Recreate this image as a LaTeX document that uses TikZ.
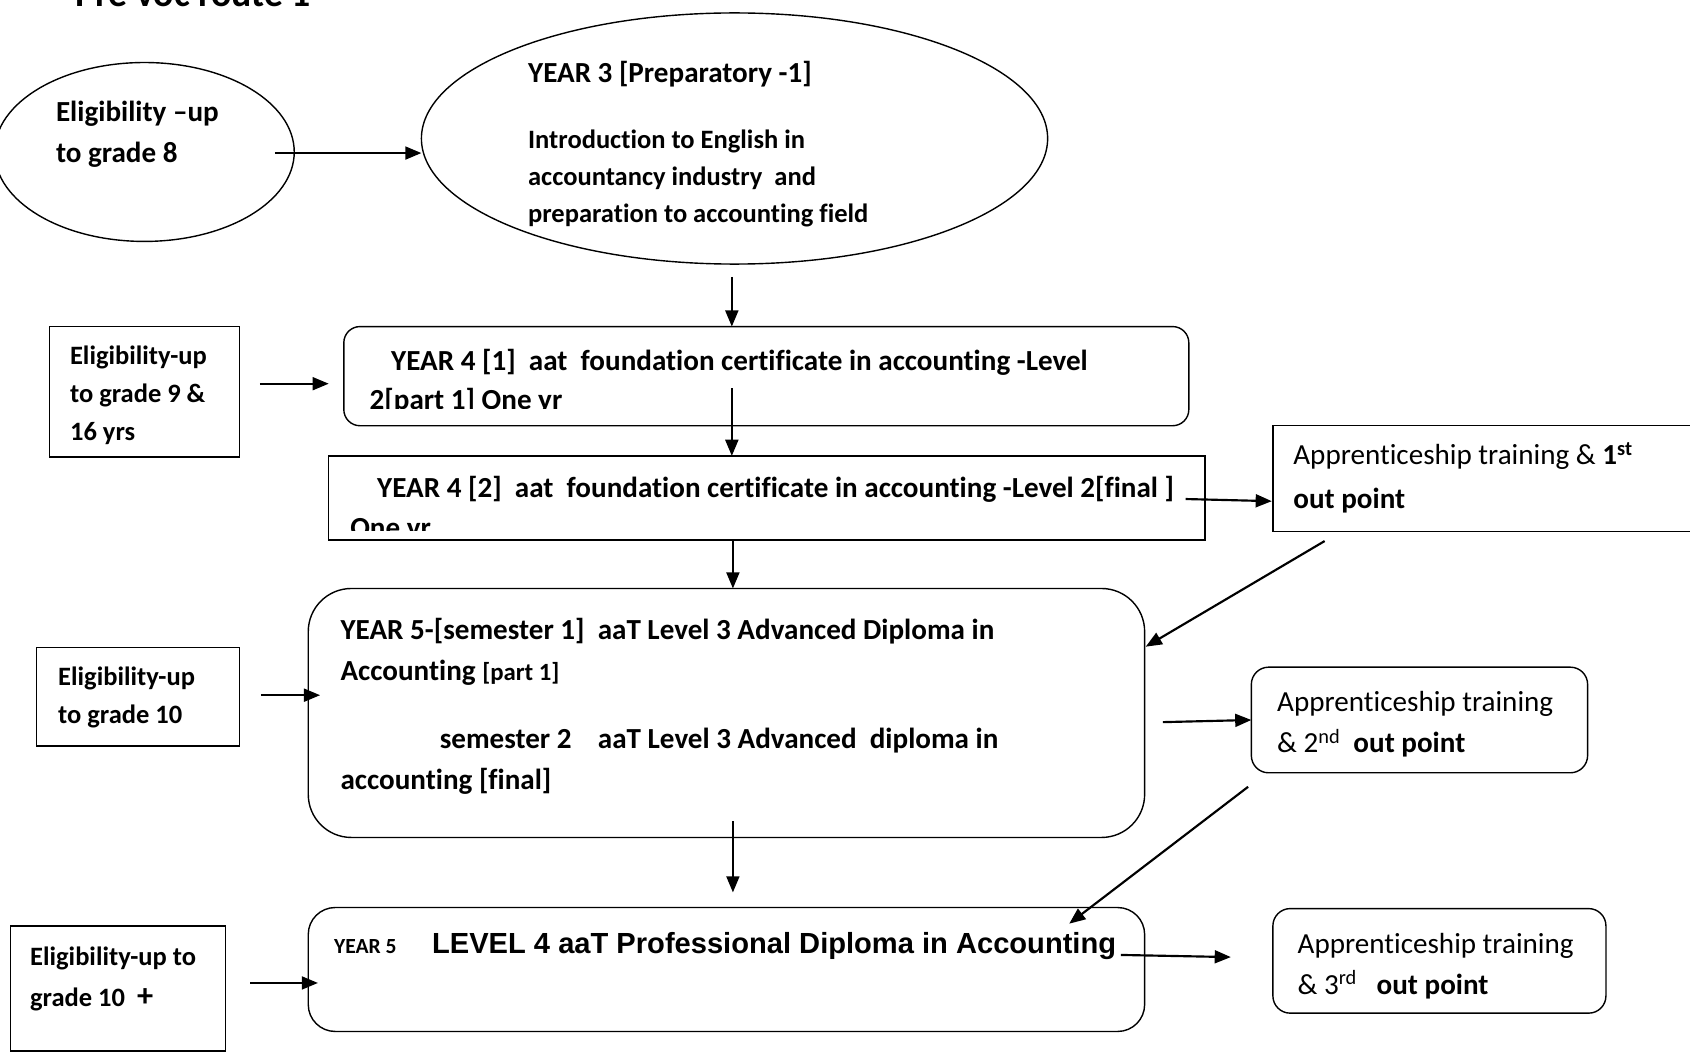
\documentclass[tikz,border=0pt]{standalone}
\usepackage{fontspec}
\setmainfont{Carlito}[Ligatures=NoCommon]
\newfontfamily\arialf{Liberation Sans}
\usetikzlibrary{arrows.meta,calc,shapes.geometric}
\tikzset{
  base/.style={draw, line width=1.3pt, inner sep=0pt, outer sep=0pt},
  ellbox/.style={base, ellipse},
  sqbox/.style={base, rectangle},
  rbox/.style={base, rectangle, rounded corners=#1},
  arr/.style={-{Triangle[length=15pt,width=12pt]}, line width=2pt},
  tl/.style={anchor=mid west, yshift=-7pt, inner sep=0pt, outer sep=0pt, font=\bfseries\fontsize{27}{32}\selectfont},
  tlb/.style={anchor=base west, inner sep=0pt, outer sep=0pt, font=\bfseries\fontsize{27}{32}\selectfont},
  tm/.style={anchor=mid west, yshift=-7pt, inner sep=0pt, outer sep=0pt, font=\bfseries\fontsize{24.6}{30}\selectfont},
  tr/.style={anchor=mid west, yshift=-7pt, inner sep=0pt, outer sep=0pt, font=\fontsize{27}{32}\selectfont},
}
\begin{document}
\begin{tikzpicture}[x=1pt,y=-1pt]
\useasboundingbox (0,0) rectangle (1568,979);
\clip (0,0) rectangle (1568,979);

% title
\node[anchor=base west, inner sep=0pt, font=\bfseries\fontsize{35}{40}\selectfont] (title) at (70,6) {Pre voc route 1};

% shapes
\node[ellbox, minimum width=278pt, minimum height=166pt] (e1) at (134,141) {};
\node[ellbox, minimum width=581pt, minimum height=233pt] (e2) at (681.5,128.5) {};
\node[sqbox, minimum width=176pt, minimum height=121pt] (b1) at (134,363.5) {};
\node[rbox=15pt, minimum width=784pt, minimum height=92pt] (r1) at (711,349) {};
\node[sqbox, minimum width=813pt, minimum height=78pt] (r2) at (711.5,462) {};
\node[sqbox, minimum width=399pt, minimum height=98pt] (a1) at (1380.5,444) {};
\node[rbox=40pt, minimum width=776pt, minimum height=231pt] (r3) at (674,661.5) {};
\node[sqbox, minimum width=188pt, minimum height=91pt] (b2) at (128,646.5) {};
\node[rbox=16pt, minimum width=312pt, minimum height=98pt] (a2) at (1317,668) {};
\node[rbox=25pt, minimum width=776pt, minimum height=115pt] (r4) at (674,899.5) {};
\node[rbox=16pt, minimum width=309pt, minimum height=97pt] (a3) at (1335.5,891.5) {};
\node[sqbox, minimum width=199pt, minimum height=116pt] (b3) at (109.5,917) {};

% texts
\node[tl] (t1a) at (52,103) {Eligibility –up};
\node[tl] (t1b) at (52,141) {to grade 8};

\node[tl] (t2a) at (490,67) {YEAR 3 [Preparatory -1]};
\node[tm] (t2b) at (490,128) {Introduction to English in};
\node[tm] (t2c) at (490,163) {accountancy industry~ and};
\node[tm] (t2d) at (490,197) {preparation to accounting field};

\node[tm] (t3a) at (65,329) {Eligibility-up};
\node[tm] (t3b) at (65,364) {to grade 9 \&};
\node[tm] (t3c) at (65,399) {16 yrs};

\node[tl] (t4a) at (363,334) {YEAR 4 [1]~ aat~ foundation certificate in accounting -Level};
\begin{scope}
  \clip (r1.north west) rectangle ($(r1.south east)+(0,-16)$);
  \node[tlb] (t4b) at (343,380) {2[part 1] One yr};
\end{scope}

\node[tl] (t5a) at (350,452) {YEAR 4 [2]~ aat~ foundation certificate in accounting -Level 2[final ]};
\begin{scope}
  \clip (r2.north west) rectangle ($(r2.south east)+(0,-9)$);
  \node[tlb] (t5b) at (325,499) {One yr};
\end{scope}

\node[tr] (t6a) at (1200,422) {Apprenticeship training \& \textbf{1}\textsuperscript{\textbf{st}}};
\node[tl] (t6b) at (1200,462) {out point};

\node[tl] (t7a) at (316,584) {YEAR 5-[semester 1]~ aaT Level 3 Advanced Diploma in};
\node[tl] (t7b) at (316,622) {Accounting {\fontsize{23}{28}\selectfont [part 1]}};
\node[tl] (t7c) at (408,685) {semester 2~~~ aaT Level 3 Advanced~ diploma in};
\node[tl] (t7d) at (316,723) {accounting [final]};

\node[tm] (t8a) at (54,627) {Eligibility-up};
\node[tm] (t8b) at (54,662) {to grade 10};

\node[tr] (t9a) at (1185,651) {Apprenticeship training};
\node[tr] (t9b) at (1185,689) {\& 2\textsuperscript{nd}~ \textbf{out point}};

\node[tl] (t10) at (310,875) {{\fontsize{20}{24}\selectfont YEAR 5}\hspace*{33pt}{\arialf\bfseries LEVEL 4 aaT Professional Diploma in Accounting}};

\node[tr] (t11a) at (1204,875) {Apprenticeship training};
\node[tr] (t11b) at (1204,913) {\& 3\textsuperscript{rd}~~ \textbf{out point}};

\node[tm] (t12a) at (28,886) {Eligibility-up to};
\node[tm] (t12b) at (28,924) {grade 10~ {\fontsize{30}{30}\selectfont +}};

% connector end points
\coordinate (p1) at (255,142);
\coordinate (p2) at (679,257);
\coordinate (p3) at (241,356);
\coordinate (q3) at (305,356);
\coordinate (p4) at (679,360);
\coordinate (p5) at (1100,463);
\coordinate (q5) at (1180,465);
\coordinate (p6) at (680,501);
\coordinate (p7) at (1229,502);
\coordinate (q7) at (1063,600);
\coordinate (p8) at (242,645);
\coordinate (q8) at (297,645);
\coordinate (p9) at (1079,670);
\coordinate (p10) at (1158,730);
\coordinate (q10) at (992,857);
\coordinate (p11) at (680,762);
\coordinate (q11) at (680,828);
\coordinate (p12) at (1040,886);
\coordinate (q12) at (1142,888);
\coordinate (p13) at (232,912);
\coordinate (q13) at (295,912);

% connectors
\draw[arr] (p1) -- (p1 -| e2.west);
\draw[arr] (p2) -- (p2 |- r1.north);
\draw[arr] (p3) -- (q3);
\draw[arr] (p4) -- (p4 |- r2.north);
\draw[arr] (p5) -- (q5);
\draw[arr] (p6) -- (p6 |- r3.north);
\draw[arr] (p7) -- (q7);
\draw[arr] (p8) -- (q8);
\draw[arr] (p9) -- (a2.west);
\draw[arr] (p10) -- (q10);
\draw[arr] (p11) -- (q11);
\draw[arr] (p12) -- (q12);
\draw[arr] (p13) -- (q13);
\end{tikzpicture}
\end{document}
